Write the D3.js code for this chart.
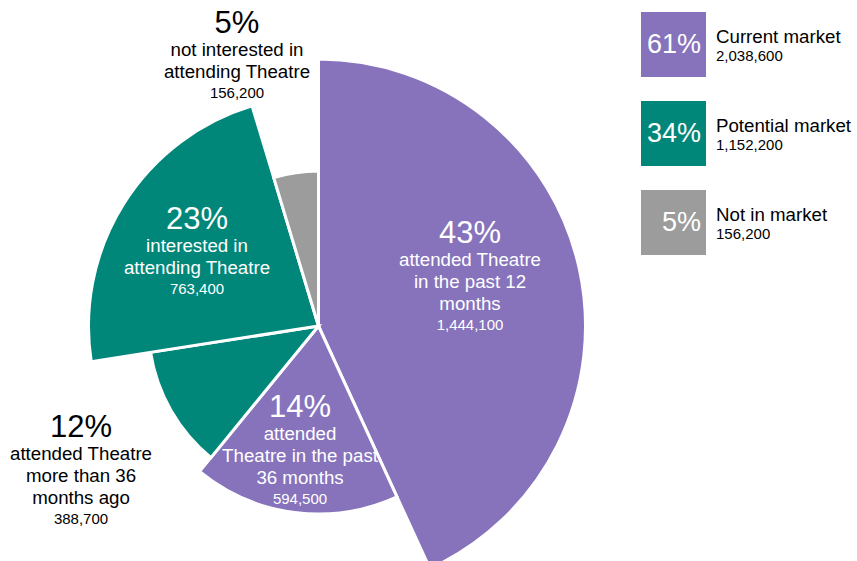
<!DOCTYPE html>
<html>
<head>
<meta charset="utf-8">
<script src="https://cdn.jsdelivr.net/npm/d3@7"></script>
<style>
  html, body { margin: 0; padding: 0; background: #fff; }
  svg { display: block; font-family: "Liberation Sans", Arial, sans-serif; }
</style>
</head>
<body>
<svg id="chart" width="857" height="561"></svg>
<script>
// Audience segments, clockwise from 12 o'clock
const segmentCounts = [1444100, 594500, 388700, 763400, 156200];
const segmentPct = ["43%", "14%", "12%", "23%", "5%"];
const segmentLines = [
  ["attended Theatre", "in the past 12", "months"],
  ["attended", "Theatre in the past", "36 months"],
  ["attended Theatre", "more than 36", "months ago"],
  ["interested in", "attending Theatre"],
  ["not interested in", "attending Theatre"]
];
const segmentMarket = [0, 0, 1, 1, 2];

// Market groups shown in the key
const marketNames = ["Current market", "Potential market", "Not in market"];
const marketCounts = [2038600, 1152200, 156200];
const marketPct = ["61%", "34%", "5%"];

// Presentation
const marketColors = ["#8673bc", "#00877a", "#9c9c9c"];
const center = { x: 318.5, y: 326 };
const sliceRadius = [267, 188, 170, 230, 155];
// label block anchor: x centre, baseline of the percentage, and whether it sits inside the slice
const labelAnchor = [
  { x: 470, y: 243, inside: true },
  { x: 300, y: 417, inside: true },
  { x: 81,  y: 437, inside: false },
  { x: 197, y: 229, inside: true },
  { x: 237, y: 33,  inside: false }
];

const fmt = d3.format(",");
const svg = d3.select("#chart");

const segments = segmentCounts.map((v, i) => ({
  value: v, pct: segmentPct[i], lines: segmentLines[i], market: segmentMarket[i], i
}));

const pie = d3.pie().sort(null).value(d => d.value);
const arcs = pie(segments);

const arc = d3.arc()
  .innerRadius(0)
  .outerRadius(d => sliceRadius[d.data.i]);

const color = d3.scaleOrdinal().domain([0, 1, 2]).range(marketColors);

const g = svg.append("g").attr("transform", `translate(${center.x},${center.y})`);
g.selectAll("path.slice")
  .data(arcs)
  .join("path")
  .attr("class", "slice")
  .attr("d", arc)
  .attr("fill", d => color(d.data.market))
  .attr("stroke", "#fff")
  .attr("stroke-width", 3)
  .attr("stroke-linejoin", "miter");

// Slice labels
const labels = svg.selectAll("g.label")
  .data(segments)
  .join("g")
  .attr("class", "label")
  .attr("transform", d => `translate(${labelAnchor[d.i].x},${labelAnchor[d.i].y})`)
  .attr("fill", d => labelAnchor[d.i].inside ? "#ffffff" : "#000000")
  .attr("text-anchor", "middle");

labels.append("text")
  .attr("font-size", 31)
  .text(d => d.pct);

labels.each(function (d) {
  const sel = d3.select(this);
  d.lines.forEach((line, k) => {
    sel.append("text")
      .attr("y", 23 + k * 22)
      .attr("font-size", 18.7)
      .text(line);
  });
  sel.append("text")
    .attr("y", 23 + (d.lines.length - 1) * 22 + 20)
    .attr("font-size", 15)
    .text(fmt(d.value));
});

// Key
const key = svg.append("g").attr("transform", "translate(641,12)");
const rows = key.selectAll("g.row")
  .data(marketNames.map((n, i) => ({ name: n, count: marketCounts[i], pct: marketPct[i], i })))
  .join("g")
  .attr("class", "row")
  .attr("transform", d => `translate(0,${d.i * 89})`);

rows.append("rect")
  .attr("width", 65)
  .attr("height", 65)
  .attr("fill", d => color(d.i));

rows.append("text")
  .attr("x", 60)
  .attr("y", 41)
  .attr("text-anchor", "end")
  .attr("font-size", 27)
  .attr("fill", "#fff")
  .text(d => d.pct);

rows.append("text")
  .attr("x", 75)
  .attr("y", 31)
  .attr("font-size", 18.7)
  .attr("fill", "#000")
  .text(d => d.name);

rows.append("text")
  .attr("x", 75)
  .attr("y", 49)
  .attr("font-size", 15)
  .attr("fill", "#000")
  .text(d => fmt(d.count));
</script>
</body>
</html>
